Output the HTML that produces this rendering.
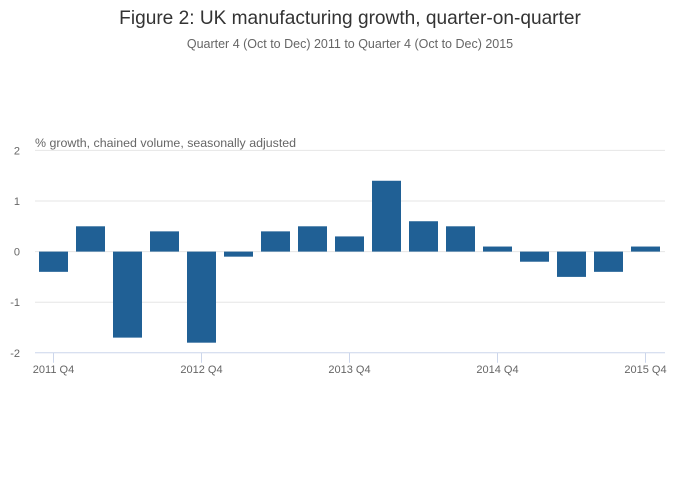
<!DOCTYPE html>
<html><head><meta charset="utf-8"><style>
body{margin:0;background:#fff;font-family:"Liberation Sans",sans-serif}
svg{display:block}
</style></head><body>
<svg id="chart" width="700" height="502">
<text x="350" y="24" text-anchor="middle" font-size="19.1" fill="#333">Figure 2: UK manufacturing growth, quarter-on-quarter</text>
<text x="350" y="48" text-anchor="middle" font-size="12.5" fill="#666">Quarter 4 (Oct to Dec) 2011 to Quarter 4 (Oct to Dec) 2015</text>
<text x="35" y="147" font-size="12.4" fill="#666">% growth, chained volume, seasonally adjusted</text>
<g id="grid"></g><g id="bars"></g><g id="axes"></g>
</svg>
<script>
const categories=["2011 Q4","2012 Q1","2012 Q2","2012 Q3","2012 Q4","2013 Q1","2013 Q2","2013 Q3","2013 Q4","2014 Q1","2014 Q2","2014 Q3","2014 Q4","2015 Q1","2015 Q2","2015 Q3","2015 Q4"];
const values=[-0.4,0.5,-1.7,0.4,-1.8,-0.1,0.4,0.5,0.3,1.4,0.6,0.5,0.1,-0.2,-0.5,-0.4,0.1];
const yTicks=[2,1,0,-1,-2];
const xTickLabels=["2011 Q4","2012 Q4","2013 Q4","2014 Q4","2015 Q4"];
const NS="http://www.w3.org/2000/svg";
const L=35,R=664,Y0=251.6,U=50.6;
const band=(R-L)/categories.length;
const y=v=>Y0-v*U;
const xc=i=>L+band*(i+0.5);
function mk(t,a,p){const e=document.createElementNS(NS,t);for(const k in a)e.setAttribute(k,a[k]);p.appendChild(e);return e;}
const grid=document.getElementById('grid'),bars=document.getElementById('bars'),axes=document.getElementById('axes');
yTicks.forEach(v=>{
  if(v!==-2){const l=mk('line',{x1:L,x2:R+1,y1:y(v),y2:y(v),stroke:'#e6e6e6','stroke-width':1},grid);
  
  }
  const t=mk('text',{x:20,y:y(v)+4,'text-anchor':'end','font-size':11,fill:'#666'},axes);
  t.textContent=v;
  
  
});
values.forEach((v,i)=>{
  const w=29,top=Math.min(y(v),y(0)),h=Math.abs(y(v)-y(0));
  const r=mk('rect',{x:xc(i)-w/2,y:top,width:w,height:h,fill:'#206095'},bars);
  
  
});
const ax=mk('line',{x1:L,x2:R+1,y1:y(-2),y2:y(-2),stroke:'#ccd6eb','stroke-width':1},axes);


xTickLabels.forEach(lab=>{
  const i=categories.indexOf(lab);
  const tk=mk('line',{x1:xc(i),x2:xc(i),y1:y(-2),y2:y(-2)+10,stroke:'#ccd6eb','stroke-width':1},axes);
  
  
  const t=mk('text',{x:xc(i),y:y(-2)+20,'text-anchor':'middle','font-size':11,fill:'#666'},axes);
  t.textContent=lab;
  
  
});
</script>
</body></html>
